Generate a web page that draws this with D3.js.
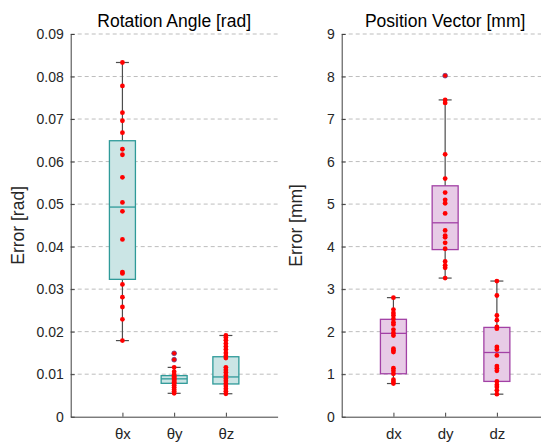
<!DOCTYPE html>
<html>
<head>
<meta charset="utf-8">
<script src="https://cdn.jsdelivr.net/npm/d3@7"></script>
<style>
  body { margin: 0; background: #fff; }
  svg { display: block; font-family: "Liberation Sans", Arial, sans-serif; }
</style>
</head>
<body>
<div id="chart"></div>
<script>
// ---- data ----
var rotCats = ["θx", "θy", "θz"];
var posCats = ["dx", "dy", "dz"];

var rotTicks = [0, 0.01, 0.02, 0.03, 0.04, 0.05, 0.06, 0.07, 0.08, 0.09];
var posTicks = [0, 1, 2, 3, 4, 5, 6, 7, 8, 9];

// individual errors
var thetaX = [0.0833, 0.0778, 0.0715, 0.0696, 0.0668, 0.0629, 0.0616, 0.0563, 0.0504, 0.0483,
              0.0417, 0.0340, 0.0337, 0.0311, 0.0281, 0.0258, 0.0229, 0.0179];
var thetaY = [0.0149, 0.0134, 0.0116, 0.0106, 0.0099, 0.0095, 0.0092, 0.0089, 0.0087, 0.0084,
              0.0081, 0.0078, 0.0074, 0.0069, 0.0064, 0.0060, 0.0055];
var thetaZ = [0.0191, 0.0186, 0.0180, 0.0172, 0.0165, 0.0158, 0.0150, 0.0143, 0.0138, 0.0116,
              0.0110, 0.0104, 0.0097, 0.0090, 0.0084, 0.0078, 0.0072, 0.0066, 0.0060, 0.0054];
var dxErr = [2.80, 2.52, 2.44, 2.38, 2.30, 2.22, 2.17, 2.05, 1.97, 1.91,
             1.60, 1.56, 1.52, 1.14, 1.08, 1.01, 0.87, 0.82, 0.78];
var dyErr = [8.02, 7.45, 7.38, 6.17, 5.60, 5.27, 5.10, 5.02, 4.78, 4.38,
             4.26, 4.22, 4.09, 3.95, 3.65, 3.56, 3.50, 3.26];
var dzErr = [3.19, 2.85, 2.38, 2.27, 2.11, 2.07, 1.64, 1.58, 1.44, 1.19,
             1.14, 1.08, 0.83, 0.75, 0.70, 0.62, 0.53];

// box statistics [whiskerLo, q1, median, q3, whiskerHi]
var rotBoxes = [[0.0179, 0.0323, 0.0493, 0.0649, 0.0833],
                [0.0055, 0.00785, 0.0089, 0.00966, 0.0116],
                [0.0054, 0.0077, 0.00935, 0.0141, 0.0191]];
var posBoxes = [[0.78, 1.01, 1.96, 2.29, 2.80],
                [3.26, 3.93, 4.56, 5.43, 7.45],
                [0.53, 0.83, 1.51, 2.10, 3.19]];

var W = 541, H = 442;
var svg = d3.select("#chart").append("svg")
    .attr("width", W)
    .attr("height", H);

var plotTop = 34, plotBottom = 416.7;

drawPanel({
  x0: 70.7, x1: 277.6, cats: rotCats, series: [thetaX, thetaY, thetaZ], boxes: rotBoxes,
  domain: [0, 0.09], ticks: rotTicks, fmt: function(d){ return d === 0 ? "0" : d3.format(".2f")(d); },
  title: "Rotation Angle [rad]", ylabel: "Error [rad]", labelX: 24,
  stroke: "#2f9a99", fill: "#cbe5e5"
});
drawPanel({
  x0: 341.7, x1: 548.6, cats: posCats, series: [dxErr, dyErr, dzErr], boxes: posBoxes,
  domain: [0, 9], ticks: posTicks, fmt: d3.format("d"),
  title: "Position Vector [mm]", ylabel: "Error [mm]", labelX: 302,
  stroke: "#a241a5", fill: "#e7cbe6"
});

function drawPanel(p)
{
  var y = d3.scaleLinear().domain(p.domain).range([plotBottom, plotTop]);
  var x = d3.scalePoint().domain([""].concat(p.cats).concat([" "])).range([p.x0, p.x1]);
  var g = svg.append("g");

  // dashed grid
  g.selectAll(".grid")
    .data(p.ticks.slice(1))
    .enter()
      .append("line")
      .attr("x1", p.x0)
      .attr("x2", p.x1)
      .attr("y1", function(d){ return y(d); })
      .attr("y2", function(d){ return y(d); })
      .attr("stroke", "#bdbdbd")
      .attr("stroke-width", 1)
      .attr("stroke-dasharray", "4,3");

  // y axis (ticks inward)
  var yAxis = d3.axisLeft(y).tickValues(p.ticks).tickFormat(p.fmt).tickSizeInner(-4).tickSizeOuter(0).tickPadding(7);
  var ga = g.append("g").attr("transform", "translate(" + p.x0 + ",0)").call(yAxis);
  ga.select(".domain").attr("stroke", "#404040");
  ga.selectAll(".tick line").attr("stroke", "#404040");
  ga.selectAll(".tick text").attr("fill", "#262626").style("font-size", "14px")
    .attr("font-family", "Liberation Sans, Arial, sans-serif");

  // x axis (ticks inward)
  var xAxis = d3.axisBottom(x).tickValues(p.cats).tickSizeInner(-4).tickSizeOuter(0).tickPadding(12);
  var gx = g.append("g").attr("transform", "translate(0," + plotBottom + ")").call(xAxis);
  gx.select(".domain").attr("stroke", "#404040");
  gx.selectAll(".tick line").attr("stroke", "#404040");
  gx.selectAll(".tick text").attr("fill", "#262626").style("font-size", "15px")
    .attr("font-family", "Liberation Sans, Arial, sans-serif");

  var bw = 26, cap = 13;
  var boxes = g.selectAll(".box")
    .data(p.boxes)
    .enter()
      .append("g")
      .attr("transform", function(d, i){ return "translate(" + x(p.cats[i]) + ",0)"; });

  // whisker lines
  boxes.append("line")
    .attr("x1", 0).attr("x2", 0)
    .attr("y1", function(d){ return y(d[4]); })
    .attr("y2", function(d){ return y(d[0]); })
    .attr("stroke", "#4d4d4d").attr("stroke-width", 1.2);
  boxes.append("line")
    .attr("x1", -cap/2).attr("x2", cap/2)
    .attr("y1", function(d){ return y(d[4]); })
    .attr("y2", function(d){ return y(d[4]); })
    .attr("stroke", "#4d4d4d").attr("stroke-width", 1.2);
  boxes.append("line")
    .attr("x1", -cap/2).attr("x2", cap/2)
    .attr("y1", function(d){ return y(d[0]); })
    .attr("y2", function(d){ return y(d[0]); })
    .attr("stroke", "#4d4d4d").attr("stroke-width", 1.2);

  // box
  boxes.append("rect")
    .attr("x", -bw/2)
    .attr("width", bw)
    .attr("y", function(d){ return y(d[3]); })
    .attr("height", function(d){ return y(d[1]) - y(d[3]); })
    .attr("fill", p.fill)
    .attr("stroke", p.stroke)
    .attr("stroke-width", 1.3);
  boxes.append("line")
    .attr("x1", -bw/2).attr("x2", bw/2)
    .attr("y1", function(d){ return y(d[2]); })
    .attr("y2", function(d){ return y(d[2]); })
    .attr("stroke", p.stroke).attr("stroke-width", 1.3);

  // points
  p.series.forEach(function(vals, i)
  {
    var b = p.boxes[i];
    g.selectAll(".pt" + i)
      .data(vals)
      .enter()
        .append("circle")
        .attr("class", "pt" + i)
        .attr("cx", x(p.cats[i]))
        .attr("cy", function(d){ return y(d); })
        .attr("r", 2.4)
        .attr("fill", "#ff0000")
        .attr("stroke", function(d){ return (d > b[4] || d < b[0]) ? "#5a3a8a" : "none"; })
        .attr("stroke-width", 0.7);
  });

  // title
  svg.append("text")
    .attr("x", (p.x0 + p.x1) / 2)
    .attr("y", 27)
    .attr("text-anchor", "middle")
    .attr("fill", "#000")
    .style("font-size", "17.5px")
    .text(p.title);

  // y label
  svg.append("text")
    .attr("transform", "translate(" + p.labelX + "," + ((plotTop + plotBottom) / 2) + ") rotate(-90)")
    .attr("text-anchor", "middle")
    .attr("fill", "#262626")
    .style("font-size", "17.5px")
    .text(p.ylabel);
}
</script>
</body>
</html>
